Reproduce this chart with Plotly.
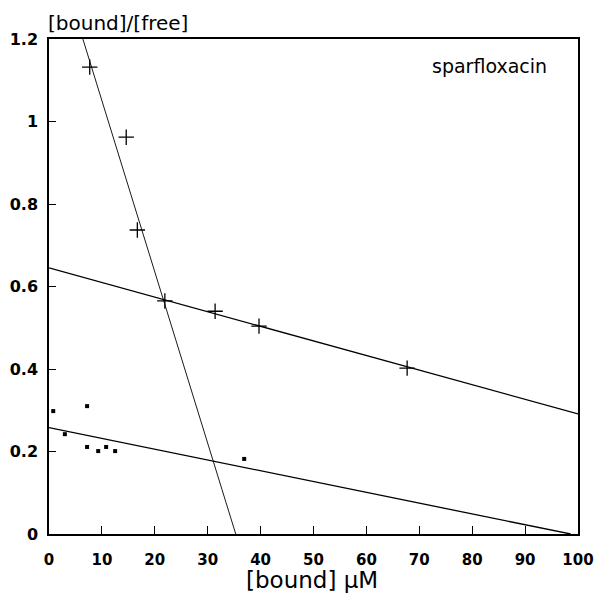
import plotly.graph_objects as go

# Data
cross_x = [7.7, 14.6, 16.7, 21.9, 31.4, 39.7, 67.7]
cross_y = [1.132, 0.962, 0.737, 0.565, 0.540, 0.504, 0.402]

dot_x = [0.8, 3.0, 7.2, 7.2, 9.3, 10.8, 12.5, 36.9]
dot_y = [0.298, 0.242, 0.310, 0.211, 0.201, 0.211, 0.201, 0.182]

steep_x = [6.4, 35.3]
steep_y = [1.2, 0.0]
upper_x = [0, 100]
upper_y = [0.645, 0.291]
lower_x = [0, 98.6]
lower_y = [0.258, 0.0]

x_ticks = [0, 10, 20, 30, 40, 50, 60, 70, 80, 90, 100]
y_ticks = [0, 0.2, 0.4, 0.6, 0.8, 1.0, 1.2]
y_tick_labels = ["0", "0.2", "0.4", "0.6", "0.8", "1", "1.2"]

FONT = "DejaVu Sans"

fig = go.Figure()
fig.add_trace(go.Scatter(x=steep_x, y=steep_y, mode="lines",
                         line=dict(color="black", width=0.9), hoverinfo="skip"))
fig.add_trace(go.Scatter(x=upper_x, y=upper_y, mode="lines",
                         line=dict(color="black", width=1.3), hoverinfo="skip"))
fig.add_trace(go.Scatter(x=lower_x, y=lower_y, mode="lines",
                         line=dict(color="black", width=1.3), hoverinfo="skip"))
fig.add_trace(go.Scatter(x=cross_x, y=cross_y, mode="markers",
                         marker=dict(symbol="cross-thin", size=11, color="black",
                                     line=dict(color="black", width=1.3))))
fig.add_trace(go.Scatter(x=dot_x, y=dot_y, mode="markers",
                         marker=dict(symbol="square", size=4, color="black")))

fig.update_layout(
    width=596, height=603,
    margin=dict(l=49, r=18, t=39, b=69),
    paper_bgcolor="white", plot_bgcolor="white",
    showlegend=False,
    font=dict(family=FONT, color="black"),
)
fig.update_xaxes(
    range=[0, 100], tickvals=x_ticks, ticks="inside", ticklen=8, tickwidth=1,
    tickcolor="black", showline=True, linecolor="black", linewidth=1.5,
    mirror=True, showgrid=False, zeroline=False, automargin=False,
    ticklabelstandoff=11,
    tickfont=dict(size=15, family=FONT, color="black", weight="bold"),
)
fig.update_yaxes(
    range=[0, 1.2], tickvals=y_ticks, ticktext=y_tick_labels, ticks="inside",
    ticklen=7, tickwidth=1, tickcolor="black", showline=True, linecolor="black",
    linewidth=1.5, mirror=True, showgrid=False, zeroline=False, automargin=False,
    ticklabelstandoff=6,
    tickfont=dict(size=16, family=FONT, color="black", weight="bold"),
)
fig.add_annotation(text="[bound]/[free]", xref="paper", yref="paper",
                   x=-0.005, y=1.0, xanchor="left", yanchor="bottom", yshift=2,
                   showarrow=False, font=dict(size=20, family=FONT, color="black"))
fig.add_annotation(text="sparfloxacin", xref="paper", yref="paper",
                   x=0.945, y=0.945, xanchor="right", yanchor="middle",
                   showarrow=False, font=dict(size=19, family=FONT, color="black"))
fig.add_annotation(text="[bound] μM", xref="paper", yref="paper",
                   x=0.497, y=0, xanchor="center", yanchor="middle", yshift=-46,
                   showarrow=False, font=dict(size=23, family=FONT, color="black"))

fig.write_html("out.html")
